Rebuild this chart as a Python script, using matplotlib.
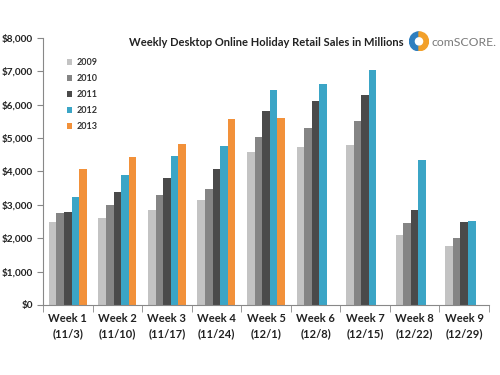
import matplotlib.pyplot as plt
import numpy as np
from matplotlib.patches import Wedge

plt.rcParams['font.family'] = ['Lato', 'DejaVu Sans']

# categories and series (sales in $ millions)
weeks = ['Week 1\n(11/3)', 'Week 2\n(11/10)', 'Week 3\n(11/17)', 'Week 4\n(11/24)',
         'Week 5\n(12/1)', 'Week 6\n(12/8)', 'Week 7\n(12/15)', 'Week 8\n(12/22)',
         'Week 9\n(12/29)']
years = ['2009', '2010', '2011', '2012', '2013']
s2009 = [2490, 2590, 2840, 3140, 4590, 4740, 4790, 2100, 1770]
s2010 = [2740, 2990, 3290, 3480, 5020, 5310, 5510, 2450, 1990]
s2011 = [2790, 3380, 3800, 4070, 5800, 6120, 6280, 2840, 2490]
s2012 = [3240, 3880, 4450, 4750, 6430, 6630, 7030, 4330, 2520]
s2013 = [4080, 4430, 4810, 5560, 5600]
series = [s2009, s2010, s2011, s2012, s2013]
colors = ['#c3c3c3', '#858585', '#4a4a4a', '#3ba5c6', '#f2913a']
yticks = [0, 1000, 2000, 3000, 4000, 5000, 6000, 7000, 8000]

fig = plt.figure(figsize=(5, 3.75), dpi=100)
ax = fig.add_axes([0.086, 0.187, 0.892, 0.712])

x = np.arange(len(weeks))
w = 0.153
for i, (vals, c, yr) in enumerate(zip(series, colors, years)):
    xs = x[:len(vals)] + (i - 2) * w
    ax.bar(xs, vals, width=w, color=c, label=yr, edgecolor='none')

ax.set_xlim(-0.5, len(weeks) - 0.5)
ax.set_ylim(0, 8000)
ax.set_yticks(yticks)
ax.set_yticklabels(['${:,}'.format(v) for v in yticks], fontsize=7.2, fontweight='bold',
                   color='#222222')
ax.set_xticks(x)
ax.set_xticklabels(weeks, fontsize=8, fontweight='bold', color='#222222', linespacing=1.45)
ax.set_xticks(np.arange(-0.5, len(weeks)), minor=True)
ax.tick_params(axis='x', which='major', length=0, pad=6)
ax.tick_params(axis='x', which='minor', length=5, color='#888888')
ax.tick_params(axis='y', length=4, color='#888888', pad=3)
for s in ['top', 'right']:
    ax.spines[s].set_visible(False)
for s in ['left', 'bottom']:
    ax.spines[s].set_color('#888888')

leg = ax.legend(loc='upper left', bbox_to_anchor=(0.035, 0.955), frameon=False,
                prop={'size': 6.5, 'weight': 'bold'}, handlelength=0.6, handleheight=0.6,
                labelspacing=0.78, handletextpad=0.5, labelcolor='#333333')

# title and logo
fig.text(0.533, 0.887, 'Weekly Desktop Online Holiday Retail Sales in Millions',
         ha='center', va='center', fontsize=8.0, fontweight='bold', color='#222222')
lax = fig.add_axes([0.818, 0.863, 0.04, 0.0533])
lax.set_xlim(-1, 1)
lax.set_ylim(-1, 1)
lax.set_aspect('equal')
lax.axis('off')
lax.add_patch(Wedge((0, 0), 0.95, 90, 270, width=0.45, color='#2f7fbf'))
lax.add_patch(Wedge((0, 0), 0.95, 270, 90, width=0.45, color='#f2a02a'))
fig.text(0.864, 0.887, 'comSCORE.', ha='left', va='center', fontsize=8.8,
         color='#7a7a7a')

fig.savefig('out.png', dpi=100)
